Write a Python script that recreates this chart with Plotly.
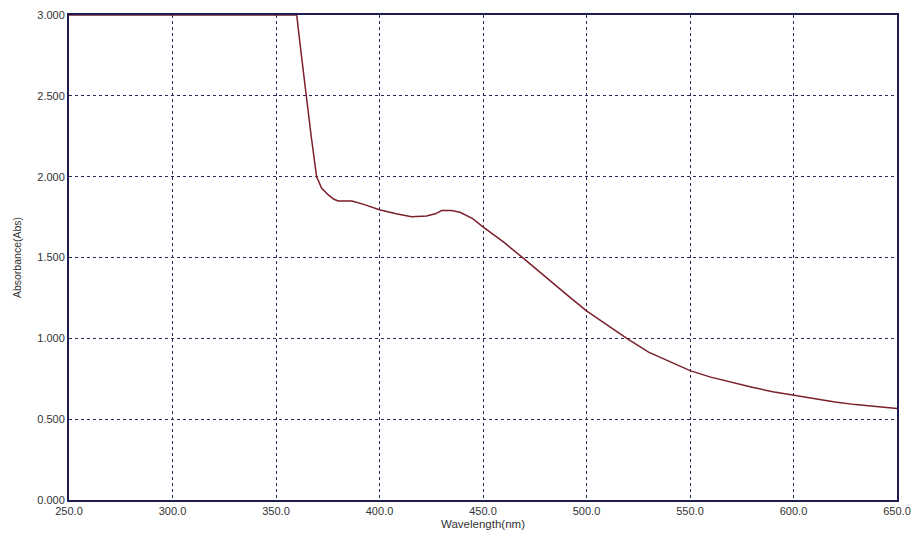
import plotly.graph_objects as go

wavelength = [250, 300, 350, 360, 362, 364.5, 367, 369.6, 372, 375, 378, 380, 386.7, 392, 400, 408, 415.5, 422.7, 427, 430, 434.8, 438.9, 445, 450,
              460, 470, 480, 490, 500, 510, 520, 530, 540, 550, 560, 570, 580, 590, 600, 610, 620, 630, 640, 650]
absorbance = [3.0, 3.0, 3.0, 3.0, 2.78, 2.5, 2.25, 2.0, 1.93, 1.89, 1.86, 1.85, 1.85, 1.83, 1.795, 1.77, 1.752, 1.757, 1.77, 1.79, 1.79, 1.78, 1.74, 1.69,
              1.595, 1.49, 1.38, 1.275, 1.17, 1.08, 0.995, 0.915, 0.855, 0.80, 0.76, 0.727, 0.697, 0.67, 0.648, 0.627, 0.606, 0.59, 0.577, 0.566]

x_ticks = [250, 300, 350, 400, 450, 500, 550, 600, 650]
x_tick_labels = ["250.0", "300.0", "350.0", "400.0", "450.0", "500.0", "550.0", "600.0", "650.0"]
y_ticks = [0, 0.5, 1.0, 1.5, 2.0, 2.5, 3.0]
y_tick_labels = ["0.000", "0.500", "1.000", "1.500", "2.000", "2.500", "3.000"]

fig = go.Figure()
fig.add_trace(go.Scatter(x=wavelength, y=absorbance, mode="lines",
                         line=dict(color="#7a1f2b", width=1.5), showlegend=False))

axis_common = dict(showline=True, linecolor="#1c1c4e", linewidth=2, mirror=True,
                   showgrid=True, gridcolor="#2a2a5a", griddash="dot", gridwidth=1,
                   zeroline=False, ticks="", automargin=False,
                   tickfont=dict(family="Liberation Sans, Arial", size=11, color="#333333"))

fig.update_xaxes(range=[250, 650], tickvals=x_ticks, ticktext=x_tick_labels,
                 title=dict(text="Wavelength(nm)", font=dict(family="Liberation Sans, Arial", size=11.5, color="#333333"), standoff=4),
                 **axis_common)
fig.update_yaxes(range=[0, 3.0], tickvals=y_ticks, ticktext=y_tick_labels,
                 title=dict(text="Absorbance(Abs)", font=dict(family="Liberation Sans, Arial", size=10.5, color="#333333"), standoff=14),
                 **axis_common)

fig.update_layout(width=916, height=533, margin=dict(l=69, r=19, t=15, b=33),
                  paper_bgcolor="white", plot_bgcolor="white")

fig.write_html("out.html")
